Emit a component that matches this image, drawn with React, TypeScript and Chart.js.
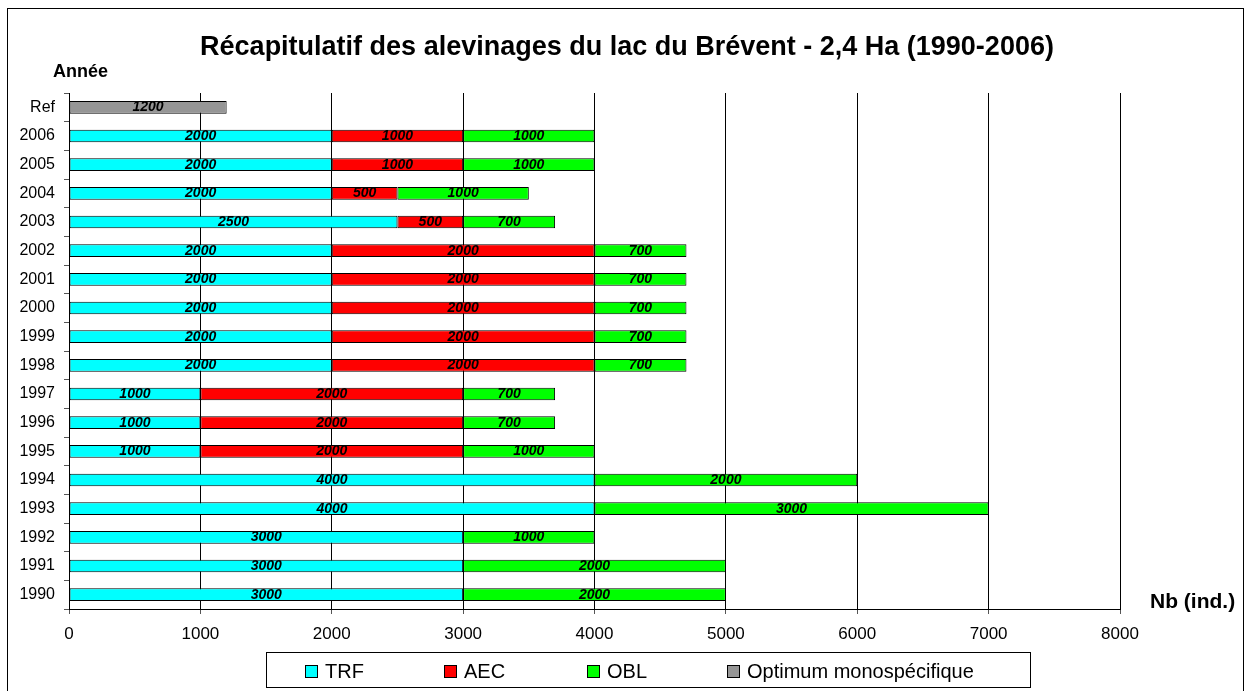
import React, { useEffect, useRef } from "react";
import { Chart, registerables } from "chart.js";

Chart.register(...registerables);

const categories = ["Ref", "2006", "2005", "2004", "2003", "2002", "2001", "2000", "1999", "1998", "1997", "1996", "1995", "1994", "1993", "1992", "1991", "1990"];
const trf = [null, 2000, 2000, 2000, 2500, 2000, 2000, 2000, 2000, 2000, 1000, 1000, 1000, 4000, 4000, 3000, 3000, 3000];
const aec = [null, 1000, 1000, 500, 500, 2000, 2000, 2000, 2000, 2000, 2000, 2000, 2000, null, null, null, null, null];
const obl = [null, 1000, 1000, 1000, 700, 700, 700, 700, 700, 700, 700, 700, 1000, 2000, 3000, 1000, 2000, 2000];
const optimum = [1200, null, null, null, null, null, null, null, null, null, null, null, null, null, null, null, null, null];
const seriesNames = ["TRF", "AEC", "OBL", "Optimum monospécifique"];
const seriesColors = ["#00FFFF", "#FF0000", "#00FF00", "#969696"];
const xMin = 0;
const xMax = 8000;
const xStep = 1000;
const titleText = "Récapitulatif des alevinages du lac du Brévent - 2,4 Ha (1990-2006)";
const yAxisTitle = "Année";
const xAxisTitle = "Nb (ind.)";

const FONT = "'Liberation Sans', Arial, sans-serif";

const decorPlugin = {
  id: "decor",
  afterDatasetsDraw(chart: any) {
    const ctx = chart.ctx;
    ctx.save();
    ctx.fillStyle = "#000";
    ctx.font = `italic bold 14px ${FONT}`;
    ctx.textAlign = "center";
    ctx.textBaseline = "middle";
    chart.data.datasets.forEach((ds: any, di: number) => {
      const meta = chart.getDatasetMeta(di);
      meta.data.forEach((el: any, i: number) => {
        const v = ds.data[i];
        if (v === null || v === undefined) return;
        const p = el.getProps(["x", "base", "y"], true);
        ctx.fillText(String(v), (p.x + p.base) / 2, p.y);
      });
    });
    ctx.restore();
  },
  afterDraw(chart: any) {
    const ctx = chart.ctx;
    ctx.save();
    ctx.strokeStyle = "#000";
    ctx.lineWidth = 1;
    ctx.strokeRect(7.5, 8.5, 1236, 700);
    ctx.fillStyle = "#000";
    ctx.font = `bold 27px ${FONT}`;
    ctx.textAlign = "center";
    ctx.textBaseline = "alphabetic";
    ctx.fillText(titleText, 627, 55);
    ctx.font = `bold 18px ${FONT}`;
    ctx.textAlign = "left";
    ctx.fillText(yAxisTitle, 53, 77);
    ctx.font = `bold 21px ${FONT}`;
    ctx.fillText(xAxisTitle, 1150, 608);
    const lx = 266, ly = 652, lw = 764, lh = 35;
    ctx.strokeRect(lx + 0.5, ly + 0.5, lw, lh);
    const sqX = [305, 444, 587, 727];
    ctx.font = `20px ${FONT}`;
    ctx.textBaseline = "middle";
    seriesNames.forEach((name, i) => {
      ctx.fillStyle = seriesColors[i];
      ctx.fillRect(sqX[i] + 0.5, 665.5, 12, 12);
      ctx.strokeStyle = "#000";
      ctx.strokeRect(sqX[i] + 0.5, 665.5, 12, 12);
      ctx.fillStyle = "#000";
      ctx.fillText(name, sqX[i] + 20, 672);
    });
    ctx.restore();
  },
};

export default function App() {
  const ref = useRef<HTMLCanvasElement>(null);
  useEffect(() => {
    document.body.style.margin = "0";
    const mk = (label: string, data: any[], color: string) => ({
      label,
      data,
      backgroundColor: color,
      borderColor: "#000",
      borderWidth: 1,
      borderSkipped: false,
      barPercentage: 0.44,
      categoryPercentage: 1,
    });
    const chart = new Chart(ref.current as HTMLCanvasElement, {
      type: "bar",
      data: {
        labels: categories,
        datasets: [
          mk(seriesNames[0], trf, seriesColors[0]),
          mk(seriesNames[1], aec, seriesColors[1]),
          mk(seriesNames[2], obl, seriesColors[2]),
          mk(seriesNames[3], optimum, seriesColors[3]),
        ],
      },
      options: {
        indexAxis: "y",
        animation: false,
        responsive: false,
        devicePixelRatio: 1,
        layout: { padding: { left: 0, top: 93, right: 129, bottom: 42 } },
        plugins: { legend: { display: false }, title: { display: false }, tooltip: { enabled: false } },
        scales: {
          x: {
            stacked: true,
            min: xMin,
            max: xMax,
            ticks: {
              stepSize: xStep,
              color: "#000",
              font: { family: FONT, size: 17 },
              padding: 10,
              maxRotation: 0,
              callback: (v: any) => String(v),
            },
            grid: { color: "#000", lineWidth: 1, tickLength: 5, tickColor: "#555", drawOnChartArea: true },
            border: { color: "#000", width: 1 },
            afterFit: (s: any) => { s.height = 40; },
          },
          y: {
            stacked: true,
            ticks: { color: "#000", font: { family: FONT, size: 16 }, padding: 9 },
            grid: { drawOnChartArea: false, tickLength: 5, tickColor: "#555", offset: true },
            border: { color: "#000", width: 1 },
            afterFit: (s: any) => { s.width = 69; },
          },
        },
      },
      plugins: [decorPlugin],
    } as any);
    return () => chart.destroy();
  }, []);
  return (
    <div style={{ width: 1249, height: 691 }}>
      <canvas ref={ref} width={1249} height={691} />
    </div>
  );
}
